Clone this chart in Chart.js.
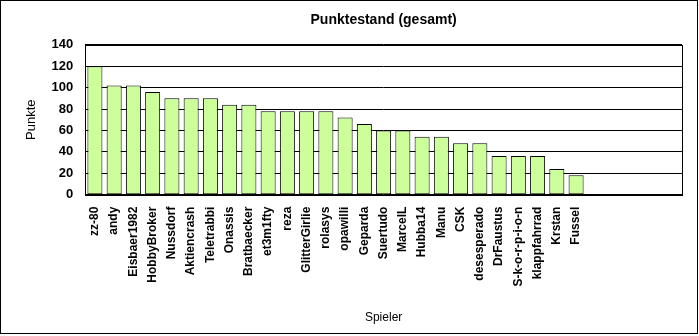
<!DOCTYPE html>
<html>
<head>
<meta charset="utf-8">
<script src="https://cdn.jsdelivr.net/npm/chart.js@4/dist/chart.umd.min.js"></script>
<style>
body { margin: 0; background: #fff; }
</style>
</head>
<body>
<canvas id="chart" width="699" height="336"></canvas>
<script>
var players = ['zz-80', 'andy', 'Eisbaer1982', 'HobbyBroker', 'Nussdorf', 'Aktiencrash', 'Teletrabbi',
    'Onassis', 'Bratbaecker', 'et3m1fty', 'reza', 'GlitterGirlie', 'rolasys', 'opawilli', 'Geparda',
    'Suertudo', 'MarcelL', 'Hubba14', 'Manu', 'CSK', 'desesperado', 'DrFaustus', 'S-k-o-r-p-i-o-n',
    'klappfahrrad', 'Krstan', 'Fussel', '', '', '', '', ''];
var points = [120, 102, 102, 96, 90, 90, 90, 84, 84, 78, 78, 78, 78, 72, 66,
    60, 60, 54, 54, 48, 48, 36, 36, 36, 24, 18, null, null, null, null, null];
var yTicks = [0, 20, 40, 60, 80, 100, 120, 140];

// frame round the plot and round the whole chart (Excel look)
var frames = {
    id: 'frames',
    afterDraw: function (chart) {
        var ctx = chart.ctx;
        var a = chart.chartArea;
        ctx.save();
        ctx.strokeStyle = '#000';
        ctx.lineWidth = 1;
        ctx.strokeRect(Math.round(a.left) + 0.5, Math.round(a.top) + 0.5,
            Math.round(a.right - a.left), Math.round(a.bottom - a.top));
        ctx.strokeRect(0.5, 0.5, 697, 333);
        ctx.restore();
    }
};

var ctx = document.getElementById('chart');
var myChart = new Chart(ctx, {
    type: 'bar',
    data: {
        labels: players,
        datasets: [{
            label: 'Punkte',
            data: points,
            backgroundColor: 'rgb(204,255,153)',
            borderColor: '#000',
            borderWidth: 1,
            borderSkipped: false,
            barPercentage: 0.78,
            categoryPercentage: 1
        }]
    },
    options: {
        responsive: false,
        animation: false,
        layout: { padding: { left: 20, right: 13, top: 0, bottom: 2 } },
        plugins: {
            legend: { display: false },
            tooltip: { enabled: false },
            title: {
                display: true,
                text: 'Punktestand (gesamt)',
                fullSize: false,
                color: '#000',
                font: { family: 'Arial', size: 14, weight: 'bold' },
                padding: { top: 12, bottom: 16 }
            }
        },
        scales: {
            x: {
                grid: { display: false, drawTicks: false },
                border: { display: false },
                ticks: {
                    autoSkip: false,
                    minRotation: 90,
                    maxRotation: 90,
                    padding: 12,
                    color: '#000',
                    font: { family: 'Arial', size: 12, weight: 'bold' }
                },
                title: {
                    display: true,
                    text: 'Spieler',
                    color: '#000',
                    font: { family: 'Arial', size: 12 },
                    padding: { top: 12, bottom: 9 }
                }
            },
            y: {
                min: yTicks[0],
                max: yTicks[yTicks.length - 1],
                afterBuildTicks: function (axis) {
                    axis.ticks = yTicks.map(function (v) { return { value: v }; });
                },
                grid: { color: '#000', drawTicks: false },
                border: { display: false },
                ticks: {
                    padding: 12,
                    color: '#000',
                    font: { family: 'Arial', size: 13, weight: 'bold' }
                },
                title: {
                    display: true,
                    text: 'Punkte',
                    color: '#000',
                    font: { family: 'Arial', size: 13 },
                    padding: { top: 4, bottom: 0 }
                }
            }
        }
    },
    plugins: [frames]
});
</script>
</body>
</html>
